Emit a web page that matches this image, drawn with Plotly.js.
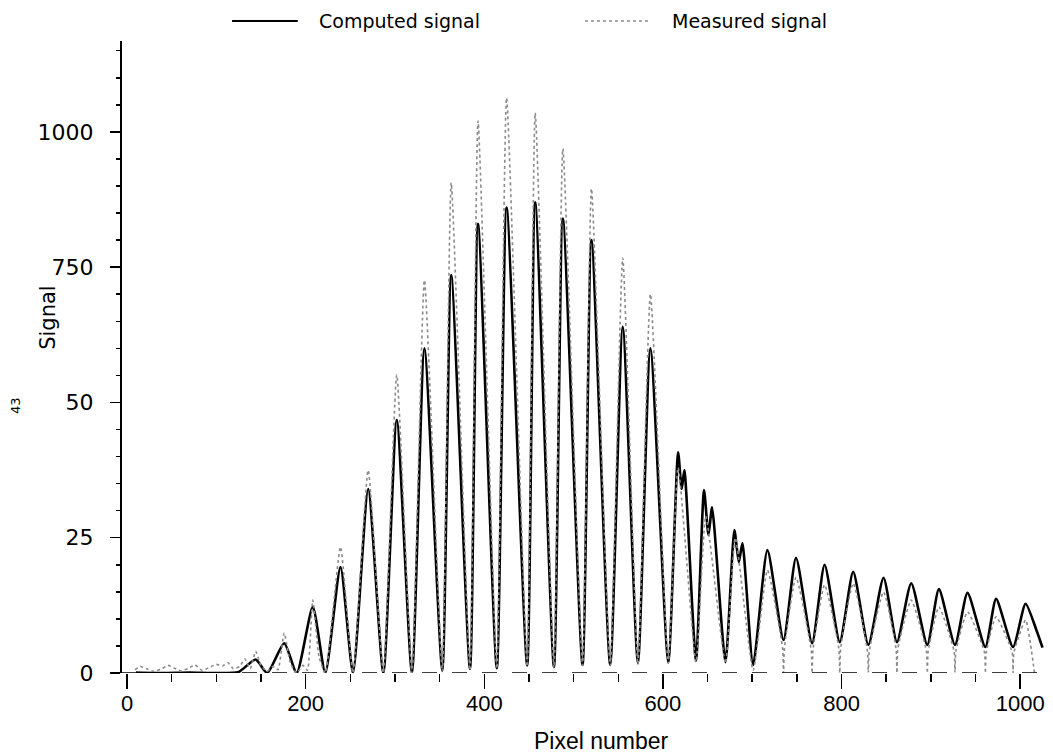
<!DOCTYPE html>
<html>
<head>
<meta charset="utf-8">
<script src="https://cdn.plot.ly/plotly-3.0.1.min.js"></script>
<style>html,body{margin:0;padding:0;background:#fff;}#chart{width:1053px;height:755px;}</style>
</head>
<body>
<div id="chart"></div>
<script>
// Pixel positions (x) and signal values
const computedX = [10, 40, 70, 100, 125, 144, 157, 176, 190, 208, 222, 239, 253, 270, 287, 302, 319, 333, 353, 363, 384, 393, 414, 425, 448, 457, 478, 488, 510, 520, 541, 555, 572, 586, 606, 617, 621, 624, 637, 646, 651, 655, 670, 680, 685, 689, 701, 717, 735, 749, 767, 781, 798, 813, 830, 847, 862, 878, 896, 909, 927, 941, 961, 973, 992, 1006, 1018, 1025];
const computedY = [1, 0, 1, 0, 2, 25, 0, 55, 0, 122, 0, 196, 0, 340, 0, 468, 0, 600, 4, 735, 8, 830, 9, 860, 14, 870, 11, 840, 15, 800, 15, 640, 18, 600, 20, 408, 340, 375, 23, 338, 255, 306, 20, 264, 205, 240, 15, 227, 61, 213, 55, 200, 57, 187, 52, 176, 57, 166, 52, 155, 52, 148, 48, 137, 48, 128, 80, 47];

const measuredX = [9, 15, 22, 30, 38, 46, 53, 60, 68, 76, 84, 92, 100, 107, 113, 119, 126, 132, 138, 144, 150, 157, 163, 169, 176, 183, 190, 197, 202, 208, 215, 222, 239, 253, 270, 287, 302, 319, 333, 353, 363, 384, 393, 414, 425, 448, 457, 478, 488, 510, 520, 541, 555, 572, 586, 606, 617, 637, 648, 670, 681, 701, 717, 734, 735, 736, 749, 766, 767, 768, 781, 797, 798, 799, 813, 829, 830, 831, 847, 861, 862, 863, 878, 895, 896, 897, 909, 926, 927, 928, 941, 960, 961, 962, 973, 991, 992, 993, 1006, 1016];
const measuredY = [6, 12, 8, 3, 7, 14, 9, 4, 8, 15, 5, 10, 16, 13, 19, 8, 12, 26, 8, 40, 14, 3, 12, 6, 74, 18, 0, 14, 5, 135, 30, 0, 233, 0, 375, 0, 551, 0, 726, 3, 906, 5, 1020, 8, 1063, 12, 1035, 10, 969, 14, 895, 14, 767, 16, 700, 18, 380, 20, 290, 18, 250, 5, 190, 45, 0, 45, 177, 42, 0, 42, 163, 45, 0, 45, 166, 40, 0, 40, 150, 45, 0, 45, 135, 40, 0, 40, 122, 40, 0, 40, 113, 38, 0, 38, 104, 38, 0, 38, 98, 0];

const xTickVals = [0, 200, 400, 600, 800, 1000];
const xTickText = ['0', '200', '400', '600', '800', '1000'];
const yTickVals = [0, 250, 500, 750, 1000];
const yTickText = ['0', '25', '50', '750', '1000'];

const seriesNames = ['Computed signal', 'Measured signal'];

const traces = [
  {x: computedX, y: computedY, type: 'scatter', mode: 'lines', name: seriesNames[0],
   line: {color: '#000', width: 2.6, shape: 'spline', smoothing: 0.6}},
  {x: measuredX, y: measuredY, type: 'scatter', mode: 'lines', name: seriesNames[1],
   line: {color: '#8a8a8a', width: 1.6, dash: 'dot', shape: 'spline', smoothing: 0.5}}
];

const FONT = '"DejaVu Sans", "Liberation Sans", Arial, sans-serif';
const layout = {
  width: 1053, height: 755,
  margin: {l: 122, r: 6, t: 41, b: 82},
  paper_bgcolor: '#fff', plot_bgcolor: '#fff',
  showlegend: false,
  font: {family: FONT, color: '#000'},
  xaxis: {
    range: [-5.6, 1030], showgrid: false, zeroline: false, showline: false,
    tickmode: 'array', tickvals: xTickVals, ticktext: xTickText,
    ticks: 'outside', ticklen: 15, tickwidth: 1.5, tickcolor: '#000',
    ticklabelstandoff: -4,
    tickfont: {family: '"Liberation Sans", Arial, sans-serif', size: 22, color: '#000'},
    minor: {tickmode: 'linear', tick0: 0, dtick: 50, ticks: 'outside', ticklen: 8, tickwidth: 1.5, tickcolor: '#000', showgrid: false}
  },
  yaxis: {
    range: [0, 1168], showgrid: false, zeroline: false,
    showline: true, linewidth: 2.2, linecolor: '#000',
    tickmode: 'array', tickvals: yTickVals, ticktext: yTickText,
    ticks: 'outside', ticklen: 10, tickwidth: 1.5, tickcolor: '#000',
    ticklabelstandoff: 12,
    tickfont: {family: FONT, size: 22, color: '#000'},
    minor: {tickmode: 'linear', tick0: 0, dtick: 50, ticks: 'outside', ticklen: 4, tickwidth: 1.5, tickcolor: '#000', showgrid: false}
  },
  shapes: [
    {type: 'line', xref: 'paper', yref: 'y', x0: 0, x1: 1, y0: 0, y1: 0,
     line: {color: '#000', width: 1.6, dash: 'longdash'}},
    {type: 'line', xref: 'paper', yref: 'paper', x0: 0.119, x1: 0.190, y0: 1.0316, y1: 1.0316,
     line: {color: '#000', width: 2}},
    {type: 'line', xref: 'paper', yref: 'paper', x0: 0.5005, x1: 0.5686, y0: 1.0316, y1: 1.0316,
     line: {color: '#8a8a8a', width: 1.5, dash: 'dot'}}
  ],
  annotations: [
    {text: seriesNames[0], xref: 'paper', yref: 'paper', x: 0.2108, y: 1.0316, xanchor: 'left', yanchor: 'middle',
     showarrow: false, font: {family: FONT, size: 19, color: '#000'}},
    {text: seriesNames[1], xref: 'paper', yref: 'paper', x: 0.5924, y: 1.0316, xanchor: 'left', yanchor: 'middle',
     showarrow: false, font: {family: FONT, size: 19, color: '#000'}},
    {text: 'Pixel number', xref: 'paper', yref: 'paper', x: 0.518, y: -0.1076, xanchor: 'center', yanchor: 'middle',
     showarrow: false, font: {family: '"Liberation Sans", Arial, sans-serif', size: 23, color: '#000'}},
    {text: 'Signal', xref: 'paper', yref: 'paper', x: -0.08, y: 0.562, xanchor: 'center', yanchor: 'middle',
     textangle: -90, showarrow: false, font: {family: FONT, size: 21, color: '#000'}},
    {text: '43', xref: 'paper', yref: 'paper', x: -0.1157, y: 0.424, xanchor: 'center', yanchor: 'middle',
     textangle: -90, showarrow: false, font: {family: FONT, size: 13, color: '#000'}}
  ]
};

Plotly.newPlot('chart', traces, layout, {displayModeBar: false, staticPlot: true});
</script>
</body>
</html>
